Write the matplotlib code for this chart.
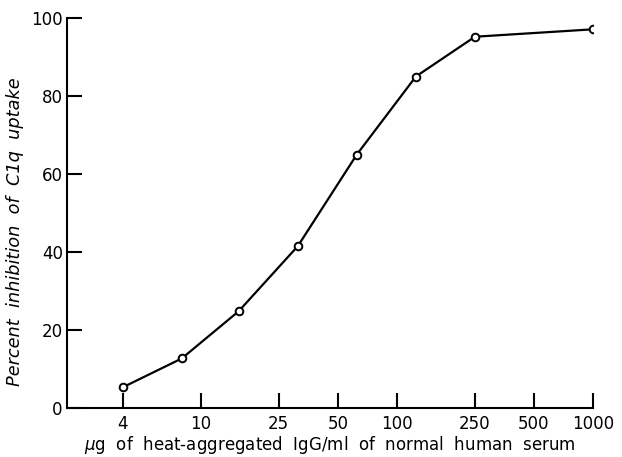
import matplotlib
matplotlib.use('Agg')
import matplotlib.pyplot as plt
from matplotlib.ticker import FixedLocator, NullLocator

# ug of heat-aggregated IgG/ml vs percent inhibition
igg_dose = [4, 8, 15.6, 31.25, 62.5, 125, 250, 1000]
inhibition = [5.3, 12.7, 24.8, 41.5, 65.0, 85.0, 95.2, 97.1]

xticks = [4, 10, 25, 50, 100, 250, 500, 1000]
yticks = [0, 20, 40, 60, 80, 100]

fig = plt.figure(figsize=(6.22, 4.57), dpi=100)
ax = fig.add_axes([0.1077, 0.1072, 0.8457, 0.8534])

ax.plot(igg_dose, inhibition, color='black', lw=1.6, marker='o',
        markersize=5.5, markerfacecolor='white', markeredgecolor='black',
        markeredgewidth=1.4, zorder=3)

ax.set_xscale('log')
ax.set_xlim(2.08, 1000)
ax.set_ylim(0, 100)
ax.xaxis.set_major_locator(FixedLocator(xticks))
ax.xaxis.set_minor_locator(NullLocator())
ax.set_xticklabels([str(t) for t in xticks])
ax.set_yticks(yticks)

for s in ['top', 'right']:
    ax.spines[s].set_visible(False)
for s in ['left', 'bottom']:
    ax.spines[s].set_linewidth(1.5)

ax.tick_params(axis='both', direction='in', length=11, width=1.5,
               labelsize=12, pad=5)
ax.tick_params(axis='y', pad=3)

ax.set_xlabel(r'$\mu$g  of  heat-aggregated  IgG/ml  of  normal  human  serum',
              fontsize=12)
ax.xaxis.set_label_coords(0.5, -0.066)
ax.set_ylabel('Percent  inhibition  of  C1q  uptake', fontsize=12.8,
              style='italic')
ax.yaxis.set_label_coords(-0.082, 0.451)

fig.savefig('out.png', dpi=100)
